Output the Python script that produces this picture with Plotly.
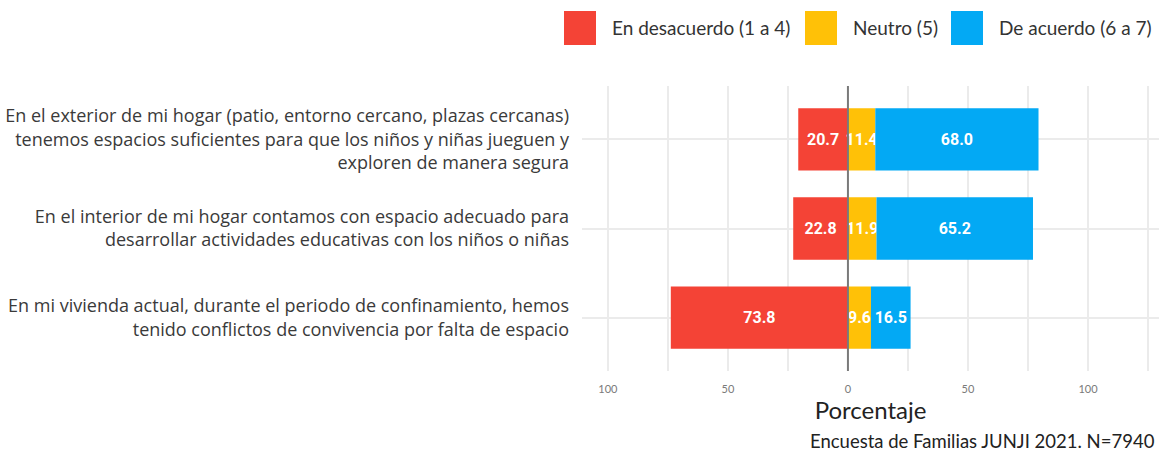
import plotly.graph_objects as go

categories = [
    "En el exterior de mi hogar (patio, entorno cercano, plazas cercanas)<br>tenemos espacios suficientes para que los niños y niñas jueguen y<br>exploren de manera segura",
    "En el interior de mi hogar contamos con espacio adecuado para<br>desarrollar actividades educativas con los niños o niñas",
    "En mi vivienda actual, durante el periodo de confinamiento, hemos<br>tenido conflictos de convivencia por falta de espacio",
]
desacuerdo = [20.7, 22.8, 73.8]
neutro = [11.4, 11.9, 9.6]
acuerdo = [68.0, 65.2, 16.5]

series_names = ["En desacuerdo (1 a 4)", "Neutro (5)", "De acuerdo (6 a 7)"]
colors = ["#F44336", "#FFC107", "#03A9F4"]

tick_vals = [-100, -50, 0, 50, 100]
tick_text = ["100", "50", "0", "50", "100"]
minor_vals = [-125, -75, -25, 25, 75, 125]

W, H = 1159, 455
L, R, T, B = 582, 0, 86, 84

label_font = dict(family="Roboto, sans-serif", size=16, color="white")

fig = go.Figure()
for vals, sign, name, col in [(desacuerdo, -1, series_names[0], colors[0]),
                              (neutro, 1, series_names[1], colors[1]),
                              (acuerdo, 1, series_names[2], colors[2])]:
    fig.add_trace(go.Bar(
        y=categories, x=[sign * v for v in vals], orientation="h",
        marker=dict(color=col, line=dict(width=0)),
        text=[f"{v:.1f}" for v in vals], texttemplate="<b>%{text}</b>",
        textposition="inside", insidetextanchor="middle", constraintext="none",
        textangle=0, textfont=label_font, name=name, showlegend=False, width=0.7,
    ))

# zero reference line
fig.add_shape(type="line", x0=0, x1=0, xref="x", y0=0, y1=1, yref="paper",
              line=dict(color="#7a7a7a", width=2), layer="above")

# manual legend (large square keys)
pw = W - L - R
ph = H - T - B
def px_x(p):
    return (p - L) / pw
def px_y(p):
    return (H - B - p) / ph

legend_keys = [(564, 610), (805, 851), (951, 997)]
for (kx, tx), name, col in zip(legend_keys, series_names, colors):
    fig.add_shape(type="rect", xref="paper", yref="paper",
                  x0=px_x(kx), x1=px_x(kx + 32), y0=px_y(45), y1=px_y(11),
                  fillcolor=col, line=dict(width=0), layer="above")
    fig.add_annotation(xref="paper", yref="paper", x=px_x(tx), y=px_y(27),
                       xanchor="left", yanchor="middle", showarrow=False,
                       text=name, font=dict(family="Lato, sans-serif", size=19, color="#333333"))

# caption
fig.add_annotation(xref="paper", yref="paper", x=px_x(1157), y=px_y(441),
                   xanchor="right", yanchor="middle", showarrow=False,
                   text="Encuesta de Familias JUNJI 2021. N=7940",
                   font=dict(family="Lato, sans-serif", size=18.5, color="#222222"))

fig.update_layout(
    width=W, height=H,
    margin=dict(l=L, r=R, t=T, b=B, pad=0),
    barmode="relative",
    paper_bgcolor="white", plot_bgcolor="white",
    showlegend=False,
    font=dict(family="Lato, sans-serif"),
)
fig.update_xaxes(
    range=[-110.8, 129.6],
    tickmode="array", tickvals=tick_vals, ticktext=tick_text,
    tickfont=dict(family="Lato, sans-serif", size=11, color="#7a7a7a"),
    showgrid=True, gridcolor="#EBEBEB", gridwidth=2,
    minor=dict(tickmode="array", tickvals=minor_vals, showgrid=True,
               gridcolor="#EBEBEB", gridwidth=2, ticks=""),
    zeroline=False, showline=False, ticks="", ticklabelstandoff=10,
    title=dict(text="Porcentaje", font=dict(family="Lato, sans-serif", size=24, color="#222222"), standoff=6),
    fixedrange=True,
)
fig.update_yaxes(
    type="category", range=[2.6, -0.6],
    tickfont=dict(family="Open Sans, sans-serif", size=18, color="#3a3a3a"),
    showgrid=True, gridcolor="#EBEBEB", gridwidth=2,
    zeroline=False, showline=False, ticks="", ticklabelstandoff=12,
    fixedrange=True,
)

fig.write_html("out.html", config={"displayModeBar": False},
               post_script="document.body.style.margin='0px';document.body.style.overflow='hidden';")
